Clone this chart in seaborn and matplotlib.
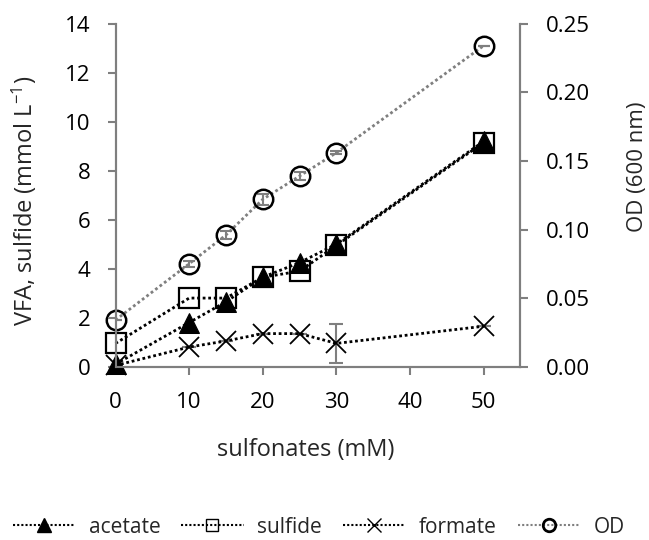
import matplotlib
matplotlib.use("Agg")
import matplotlib.pyplot as plt
import seaborn as sns
from matplotlib.lines import Line2D

sulfonatos = [0, 10, 15, 20, 25, 30, 50]
acetato = [0.1, 1.8, 2.65, 3.65, 4.25, 5.0, 9.2]
sulfuro = [0.95, 2.8, 2.8, 3.65, 3.9, 4.95, 9.15]
formato = [0.05, 0.8, 1.05, 1.35, 1.35, 0.95, 1.65]
formato_err = [0, 0, 0, 0, 0, 0.8, 0]
od = [0.034, 0.075, 0.096, 0.122, 0.139, 0.156, 0.234]
od_err = [0, 0.002, 0.003, 0.004, 0.003, 0.001, 0]

sns.set_theme(style="white")
plt.rcParams['font.family'] = ['Open Sans', 'DejaVu Sans']
gris = '#7f7f7f'
punteado = (0, (1, 1))

fig, ax1 = plt.subplots(figsize=(6.49, 5.40), dpi=100)
fig.subplots_adjust(left=0.178, right=0.802, top=0.956, bottom=0.321)
ax2 = ax1.twinx()

# --- series eje izquierdo ---
ax1.errorbar(sulfonatos, formato, yerr=formato_err, fmt='none', ecolor=gris,
             elinewidth=1.5, capsize=5, capthick=1.5, zorder=1)
sns.lineplot(x=sulfonatos, y=formato, ax=ax1, color='black', marker='x',
             markersize=14, markeredgecolor='black', markeredgewidth=1.3,
             linestyle=punteado, linewidth=2, clip_on=False)
sns.lineplot(x=sulfonatos, y=sulfuro, ax=ax1, color='black', marker='s',
             markersize=14, markerfacecolor='none', markeredgecolor='black',
             markeredgewidth=1.6, linestyle=punteado, linewidth=2, clip_on=False)
sns.lineplot(x=sulfonatos, y=acetato, ax=ax1, color='black', marker='^',
             markersize=15, markerfacecolor='black', markeredgecolor='black',
             linestyle=punteado, linewidth=2, clip_on=False)

# --- OD eje derecho ---
ax2.errorbar(sulfonatos, od, yerr=od_err, fmt='none', ecolor=gris,
             elinewidth=1.5, capsize=4, capthick=1.5, zorder=1)
sns.lineplot(x=sulfonatos, y=od, ax=ax2, color=gris, marker='o',
             markersize=14, markerfacecolor='none', markeredgecolor='black',
             markeredgewidth=1.8, linestyle=punteado, linewidth=2, clip_on=False)

ax1.set_xlim(0, 55)
ax1.set_ylim(0, 14)
ax2.set_ylim(0, 0.25)
ax1.set_xticks([0, 10, 20, 30, 40, 50])
ax1.set_yticks(range(0, 15, 2))
ax2.set_yticks([0, 0.05, 0.10, 0.15, 0.20, 0.25])
ax2.set_yticklabels([f"{v:.2f}" for v in [0, 0.05, 0.10, 0.15, 0.20, 0.25]])

for ax in (ax1, ax2):
    ax.spines['top'].set_visible(False)
    for s in ('left', 'right', 'bottom'):
        ax.spines[s].set_color(gris)
        ax.spines[s].set_linewidth(1.5)
    ax.tick_params(colors=gris, labelcolor='black', labelsize=16, width=1.5,
                   length=6, direction='out')
ax1.tick_params(axis='x', bottom=True, pad=12)
ax1.tick_params(axis='y', left=True, pad=12)
ax2.tick_params(axis='y', right=True, pad=12)

ax1.set_xlabel('sulfonates (mM)', fontsize=17)
ax1.set_ylabel('VFA, sulfide (mmol L$\\mathregular{^{-1}}$)', fontsize=17)
ax2.set_ylabel('OD (600 nm)', fontsize=16)
ax1.xaxis.set_label_coords(0.47, -0.208)
ax1.yaxis.set_label_coords(-0.19, 0.483)
ax2.yaxis.set_label_coords(1.262, 0.583)
ax1.set_zorder(ax2.get_zorder() + 1)
ax1.patch.set_visible(False)

handles = [
    Line2D([], [], color='black', linestyle=punteado, linewidth=1.5, marker='^',
           markersize=10, markerfacecolor='black', markeredgecolor='black'),
    Line2D([], [], color='black', linestyle=punteado, linewidth=1.5, marker='s',
           markersize=9, markerfacecolor='none', markeredgecolor='black'),
    Line2D([], [], color='black', linestyle=punteado, linewidth=1.5, marker='x',
           markersize=10, markeredgecolor='black'),
    Line2D([], [], color=gris, linestyle=punteado, linewidth=1.5, marker='o',
           markersize=9, markerfacecolor='none', markeredgecolor='black',
           markeredgewidth=2),
]
fig.legend(handles, ['acetate', 'sulfide', 'formate', 'OD'], loc='center',
           bbox_to_anchor=(0.491, 0.024), ncol=4, frameon=False, fontsize=15,
           handlelength=3.0, handletextpad=0.65, columnspacing=1.0,
           borderpad=0.1)

fig.savefig('out.png', dpi=100)
